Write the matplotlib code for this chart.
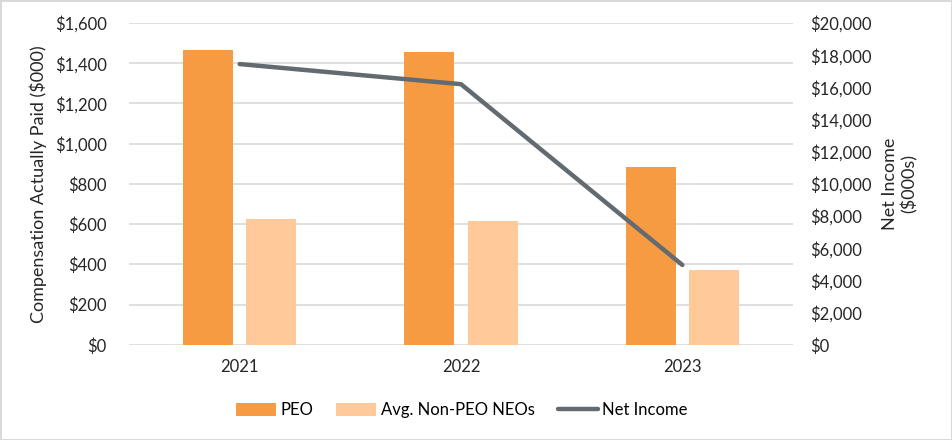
import matplotlib.pyplot as plt
import numpy as np
from matplotlib.ticker import FuncFormatter

plt.rcParams["font.family"] = ["Lato", "DejaVu Sans"]

years = ["2021", "2022", "2023"]
peo = [1466, 1456, 886]
non_peo = [628, 618, 373]
net_income = [17450, 16200, 4970]

c_peo = "#F79B42"
c_non = "#FFC999"
c_line = "#636A70"

fig = plt.figure(figsize=(9.52, 4.40), dpi=100)
fig.patch.set_edgecolor("#D9D9D9")
fig.patch.set_linewidth(2)
ax = fig.add_axes([0.1355, 0.216, 0.6975, 0.7317])
ax2 = ax.twinx()

x = np.arange(len(years))
w = 0.226
gap = 0.059
ax.bar(x - (w + gap) / 2, peo, width=w, color=c_peo, label="PEO", zorder=3)
ax.bar(x + (w + gap) / 2, non_peo, width=w, color=c_non, label="Avg. Non-PEO NEOs", zorder=3)
ax2.plot(x, net_income, color=c_line, linewidth=3.2, solid_capstyle="round", label="Net Income")

ax.set_xlim(-0.5, 2.5)
ax.set_ylim(0, 1600)
ax.set_yticks(np.arange(0, 1601, 200))
ax2.set_ylim(0, 20000)
ax2.set_yticks(np.arange(0, 20001, 2000))
ax.yaxis.set_major_formatter(FuncFormatter(lambda v, p: f"${v:,.0f}"))
ax2.yaxis.set_major_formatter(FuncFormatter(lambda v, p: f"${v:,.0f}"))
ax.set_xticks(x)
ax.set_xticklabels(years)

ax.grid(axis="y", color="#D9D9D9", linewidth=1.2, zorder=0)
ax.set_axisbelow(True)
for a in (ax, ax2):
    for s in a.spines.values():
        s.set_visible(False)
    a.tick_params(length=0, labelsize=12, colors="#262626")
ax.tick_params(axis="y", pad=16)
ax.tick_params(axis="x", pad=10)
ax2.tick_params(axis="y", pad=12)

ax.set_ylabel("Compensation Actually Paid ($000)", fontsize=13, color="#262626", labelpad=6)
ax2.set_ylabel("Net Income\n($000s)", fontsize=13, color="#262626", labelpad=8)

h1, l1 = ax.get_legend_handles_labels()
h2, l2 = ax2.get_legend_handles_labels()
fig.legend(h1 + h2, l1 + l2, loc="center", bbox_to_anchor=(0.485, 0.068), ncol=3,
           frameon=False, fontsize=12, handlelength=2.4, handleheight=0.8,
           columnspacing=1.4, handletextpad=0.25)

plt.savefig("out.png", dpi=100)
